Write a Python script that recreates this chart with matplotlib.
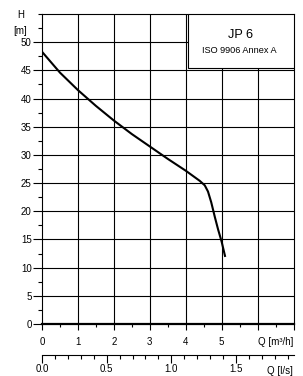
import numpy as np
import matplotlib.pyplot as plt
from matplotlib.patches import Rectangle
from matplotlib.ticker import MultipleLocator, FormatStrFormatter

plt.rcParams['font.family'] = ['Liberation Sans', 'DejaVu Sans']

# pump curve JP 6
q_m3h = [0.0, 0.5, 1.0, 1.5, 2.0, 2.5, 3.0, 3.5, 4.0, 4.39, 4.53, 4.62, 4.71, 4.81, 4.9, 5.0, 5.1]
head_m = [48.3, 44.6, 41.5, 38.7, 36.1, 33.7, 31.5, 29.3, 27.2, 25.4, 24.6, 23.5, 21.6, 19.0, 16.8, 14.6, 11.9]

q_ticks = [0, 1, 2, 3, 4, 5]
h_ticks = [0, 5, 10, 15, 20, 25, 30, 35, 40, 45, 50]
ls_ticks = [0.0, 0.5, 1.0, 1.5]

title = "JP 6"
subtitle = "ISO 9906 Annex A"

W, H = 303, 376
fig = plt.figure(figsize=(W / 100, H / 100), dpi=100)
ax = fig.add_axes([42 / W, 1 - 324 / H, (293.5 - 42) / W, (324 - 14) / H])

ax.set_xlim(0, 7)
ax.set_ylim(0, 55)

# grid
for q in range(1, 7):
    ax.axvline(q, color='black', lw=0.8, zorder=1)
for h in range(5, 55, 5):
    ax.axhline(h, color='black', lw=0.8, zorder=1)

ax.plot(q_m3h, head_m, color='black', lw=1.5, zorder=3, solid_capstyle='butt')

for s in ax.spines.values():
    s.set_linewidth(0.8)
ax.spines['bottom'].set_linewidth(1.6)

# legend box
ax.add_patch(Rectangle((4.07, 45.45), 2.93, 9.55, facecolor='white', edgecolor='black',
                       lw=0.8, zorder=4))
ax.text(5.52, 51.35, title, fontsize=9.2, ha='center', va='center', zorder=5)
ax.text(5.50, 48.5, subtitle, fontsize=6.6, ha='center', va='center', zorder=5)

# y axis
ax.set_yticks(h_ticks)
ax.yaxis.set_minor_locator(MultipleLocator(2.5))
ax.tick_params(axis='y', which='major', length=6.2, width=0.8, pad=1.2, labelsize=7)
ax.tick_params(axis='y', which='minor', length=3, width=0.8)

# x axis (m3/h)
ax.set_xticks(range(0, 8))
ax.set_xticklabels([str(q) if q in q_ticks else '' for q in range(0, 8)])
ax.xaxis.set_minor_locator(MultipleLocator(0.5))
ax.tick_params(axis='x', which='major', length=4.2, width=0.8, pad=5, labelsize=7)
ax.tick_params(axis='x', which='minor', length=2.5, width=0.8)

# second x axis (l/s)
sec = ax.secondary_xaxis(-0.1, functions=(lambda q: q / 3.6, lambda l: l * 3.6))
sec.set_xticks(ls_ticks)
sec.xaxis.set_major_formatter(FormatStrFormatter('%.1f'))
sec.xaxis.set_minor_locator(MultipleLocator(0.1))
sec.tick_params(axis='x', which='major', length=5.5, width=0.8, pad=1.2, labelsize=7)
sec.tick_params(axis='x', which='minor', length=3, width=0.8)
sec.spines['bottom'].set_linewidth(0.8)

# axis titles
fig.text(20.7 / W, 1 - 15 / H, "H", fontsize=7, ha='center', va='center')
fig.text(20.5 / W, 1 - 31 / H, "[m]", fontsize=7, ha='center', va='center')
fig.text(293 / W, 1 - 341.7 / H, "Q [m³/h]", fontsize=7, ha='right', va='center')
fig.text(293 / W, 1 - 371 / H, "Q [l/s]", fontsize=7, ha='right', va='center')

fig.savefig('out.png', dpi=100)
